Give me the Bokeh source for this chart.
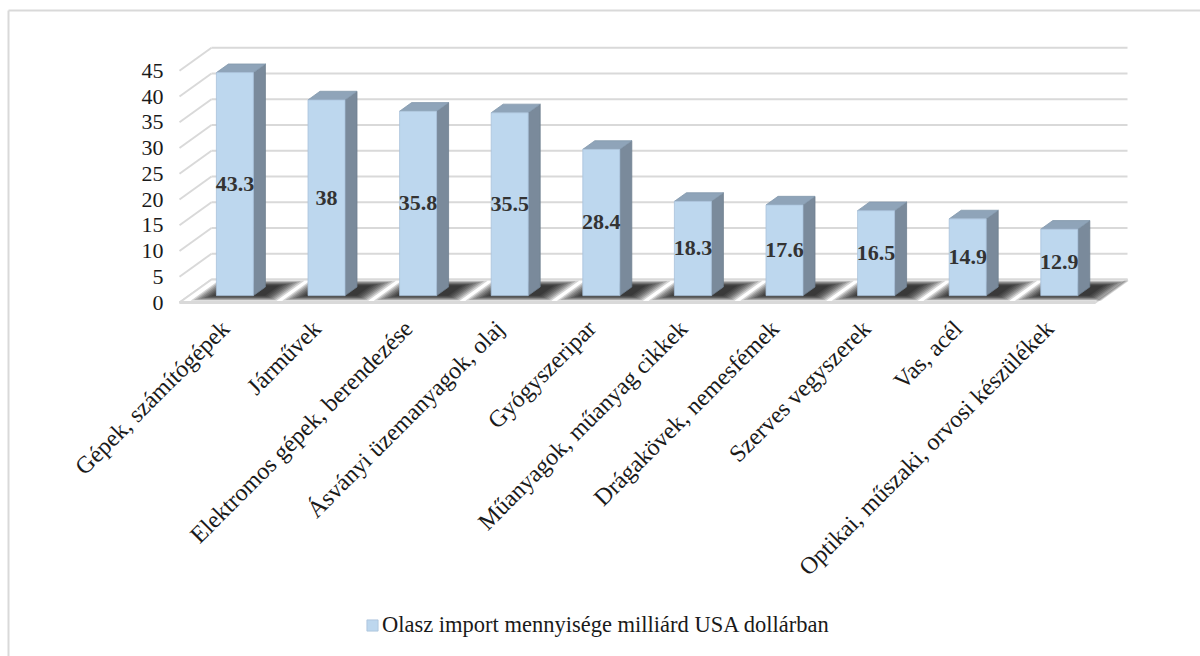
import math

from bokeh.plotting import figure
from bokeh.models import (Range1d, LinearAxis, FixedTicker, ColumnDataSource,
                          Legend, LegendItem)
from bokeh.core.properties import value
from bokeh.embed import file_html
from bokeh.resources import INLINE

# --- data -------------------------------------------------------------
categories = [
    "Gépek, számítógépek",
    "Járművek",
    "Elektromos gépek, berendezése",
    "Ásványi üzemanyagok, olaj",
    "Gyógyszeripar",
    "Műanyagok, műanyag cikkek",
    "Drágakövek, nemesfémek",
    "Szerves vegyszerek",
    "Vas, acél",
    "Optikai, műszaki, orvosi készülékek",
]
import_values = [43.3, 38, 35.8, 35.5, 28.4, 18.3, 17.6, 16.5, 14.9, 12.9]
series_name = "Olasz import mennyisége milliárd USA dollárban"
y_ticks = [0, 5, 10, 15, 20, 25, 30, 35, 40, 45]

# --- page geometry (pixels) ------------------------------------------
W, H = 1200, 656
X0, SX = 224.8, 91.6      # screen x of category 0 on the front plane, px per category
Y0, SY = 302.0, 5.15      # screen y of value 0 on the front plane, px per unit
DEPTH_PX = (32.0, -23.0)  # full depth of the 3-D box on screen


def xd(px):
    return (px - X0) / SX


def yd(py):
    return (Y0 - py) / SY


DXu = DEPTH_PX[0] / SX
DYu = -DEPTH_PX[1] / SY


def at_depth(x, v, t):
    """Front-plane point (x, v) pushed back by depth fraction t."""
    return x + t * DXu, v + t * DYu


n = len(categories)
x_lo, x_hi = -0.5, n - 0.5

SERIF = "Liberation Serif"
GRID = "#D9D9D9"
FRONT = "#BDD7EE"
SIDE = "#7A8A9B"
TOP = "#8FA4B9"

p = figure(width=W, height=H, x_range=Range1d(xd(0), xd(W)), y_range=Range1d(yd(H), yd(0)),
           x_axis_type=None, y_axis_type=None, toolbar_location=None,
           output_backend="svg", min_border=0, outline_line_color=None)
p.background_fill_color = "white"
p.border_fill_color = "white"

# outer chart border (top and left edges)
p.segment(x0=[xd(8), xd(8)], y0=[yd(10), yd(10)], x1=[xd(W + 5), xd(8)], y1=[yd(10), yd(H + 5)],
          line_color=GRID, line_width=2)

# back wall gridlines and side wall diagonals
bx0, by0 = zip(*[at_depth(x_lo, v, 1.0) for v in y_ticks])
bx1, by1 = zip(*[at_depth(x_hi, v, 1.0) for v in y_ticks])
p.segment(x0=list(bx0), y0=list(by0), x1=list(bx1), y1=list(by1), line_color=GRID, line_width=2)
p.segment(x0=[x_lo] * len(y_ticks), y0=y_ticks, x1=list(bx0), y1=list(by0),
          line_color=GRID, line_width=2)

# floor
floor_pts = [at_depth(x_lo, 0, 0), at_depth(x_hi, 0, 0), at_depth(x_hi, 0, 1), at_depth(x_lo, 0, 1)]
p.patch(x=[q[0] for q in floor_pts], y=[q[1] for q in floor_pts], fill_color="white",
        line_color=GRID, line_width=2)
p.segment(x0=[x_lo], y0=[0], x1=[x_hi], y1=[0], line_color=GRID, line_width=3)

# bar geometry
HALF = 18.5 / SX     # half width of a bar's front face
T0, TD = 0.30, 0.375  # depth of the front face, depth of the bar

# soft shadows on the floor around each bar (stacked translucent layers)
LAYERS = 8
for k in range(LAYERS):
    grow_l = (LAYERS - 1 - k) * 2.4 / SX
    grow_r = (LAYERS - 1 - k) * 2.6 / SX
    t_a, t_b = 0.08 + k * 0.03, 0.95 - k * 0.03
    xs, ys = [], []
    for i in range(n):
        left = i - HALF - 2.0 / SX - grow_l
        right = i + HALF + 12.0 / SX + grow_r
        pts = [at_depth(left, 0, t_a), at_depth(right, 0, t_a),
               at_depth(right, 0, t_b), at_depth(left, 0, t_b)]
        xs.append([q[0] for q in pts])
        ys.append([q[1] for q in pts])
    p.patches(xs=xs, ys=ys, fill_color="black", fill_alpha=0.17, line_color=None)

# bars
fx, fy = at_depth(0, 0, T0)
src = ColumnDataSource(dict(
    x=[i + fx for i in range(n)],
    bottom=[fy] * n,
    top=[v + fy for v in import_values],
    mid=[v / 2 + fy for v in import_values],
    label=[f"{v:g}" for v in import_values],
))

side_xs, side_ys, top_xs, top_ys = [], [], [], []
for i, v in enumerate(import_values):
    xl, xr = i + fx - HALF, i + fx + HALF
    b, t = fy, v + fy
    sx, sy = TD * DXu, TD * DYu
    side_xs.append([xr, xr + sx, xr + sx, xr])
    side_ys.append([b, b + sy, t + sy, t])
    top_xs.append([xl, xr, xr + sx, xl + sx])
    top_ys.append([t, t, t + sy, t + sy])

p.patches(xs=side_xs, ys=side_ys, fill_color=SIDE, line_color="#6F7F8F", line_width=0.8)
p.patches(xs=top_xs, ys=top_ys, fill_color=TOP, line_color="#8398AC", line_width=0.8)
front = p.vbar(x="x", bottom="bottom", top="top", width=2 * HALF, source=src,
               fill_color=FRONT, line_color="#A9C2DA", line_width=0.8)

p.text(x="x", y="mid", text="label", source=src, text_align="center", text_baseline="middle",
       text_font=value(SERIF), text_font_style="bold", text_font_size="22px", text_color="#333333")

# value axis on the front-left edge
yaxis = LinearAxis(fixed_location=x_lo, ticker=FixedTicker(ticks=y_ticks),
                   axis_line_color=None, major_tick_line_color=None, minor_tick_line_color=None,
                   major_tick_in=0, major_tick_out=0, major_label_standoff=16,
                   major_label_text_font=SERIF, major_label_text_font_size="22px",
                   major_label_text_color="#1A1A1A")
p.add_layout(yaxis, "left")

# category axis along the front floor edge
xaxis = LinearAxis(fixed_location=0, ticker=FixedTicker(ticks=list(range(n))),
                   major_label_overrides={i: c for i, c in enumerate(categories)},
                   axis_line_color=None, major_tick_line_color=None, minor_tick_line_color=None,
                   major_tick_in=0, major_tick_out=0, major_label_standoff=22,
                   major_label_orientation=math.pi / 4,
                   major_label_text_font=SERIF, major_label_text_font_size="24px",
                   major_label_text_color="#1A1A1A")
p.add_layout(xaxis, "below")

legend = Legend(items=[LegendItem(label=series_name, renderers=[front])],
                location=(365, 18), orientation="horizontal",
                glyph_width=14, glyph_height=14, label_standoff=3, padding=0, margin=0,
                label_text_font=SERIF, label_text_font_size="22.5px", label_text_color="#1A1A1A",
                background_fill_alpha=0, border_line_color=None)
p.add_layout(legend)

open("out.html", "w").write(file_html(p, INLINE))
